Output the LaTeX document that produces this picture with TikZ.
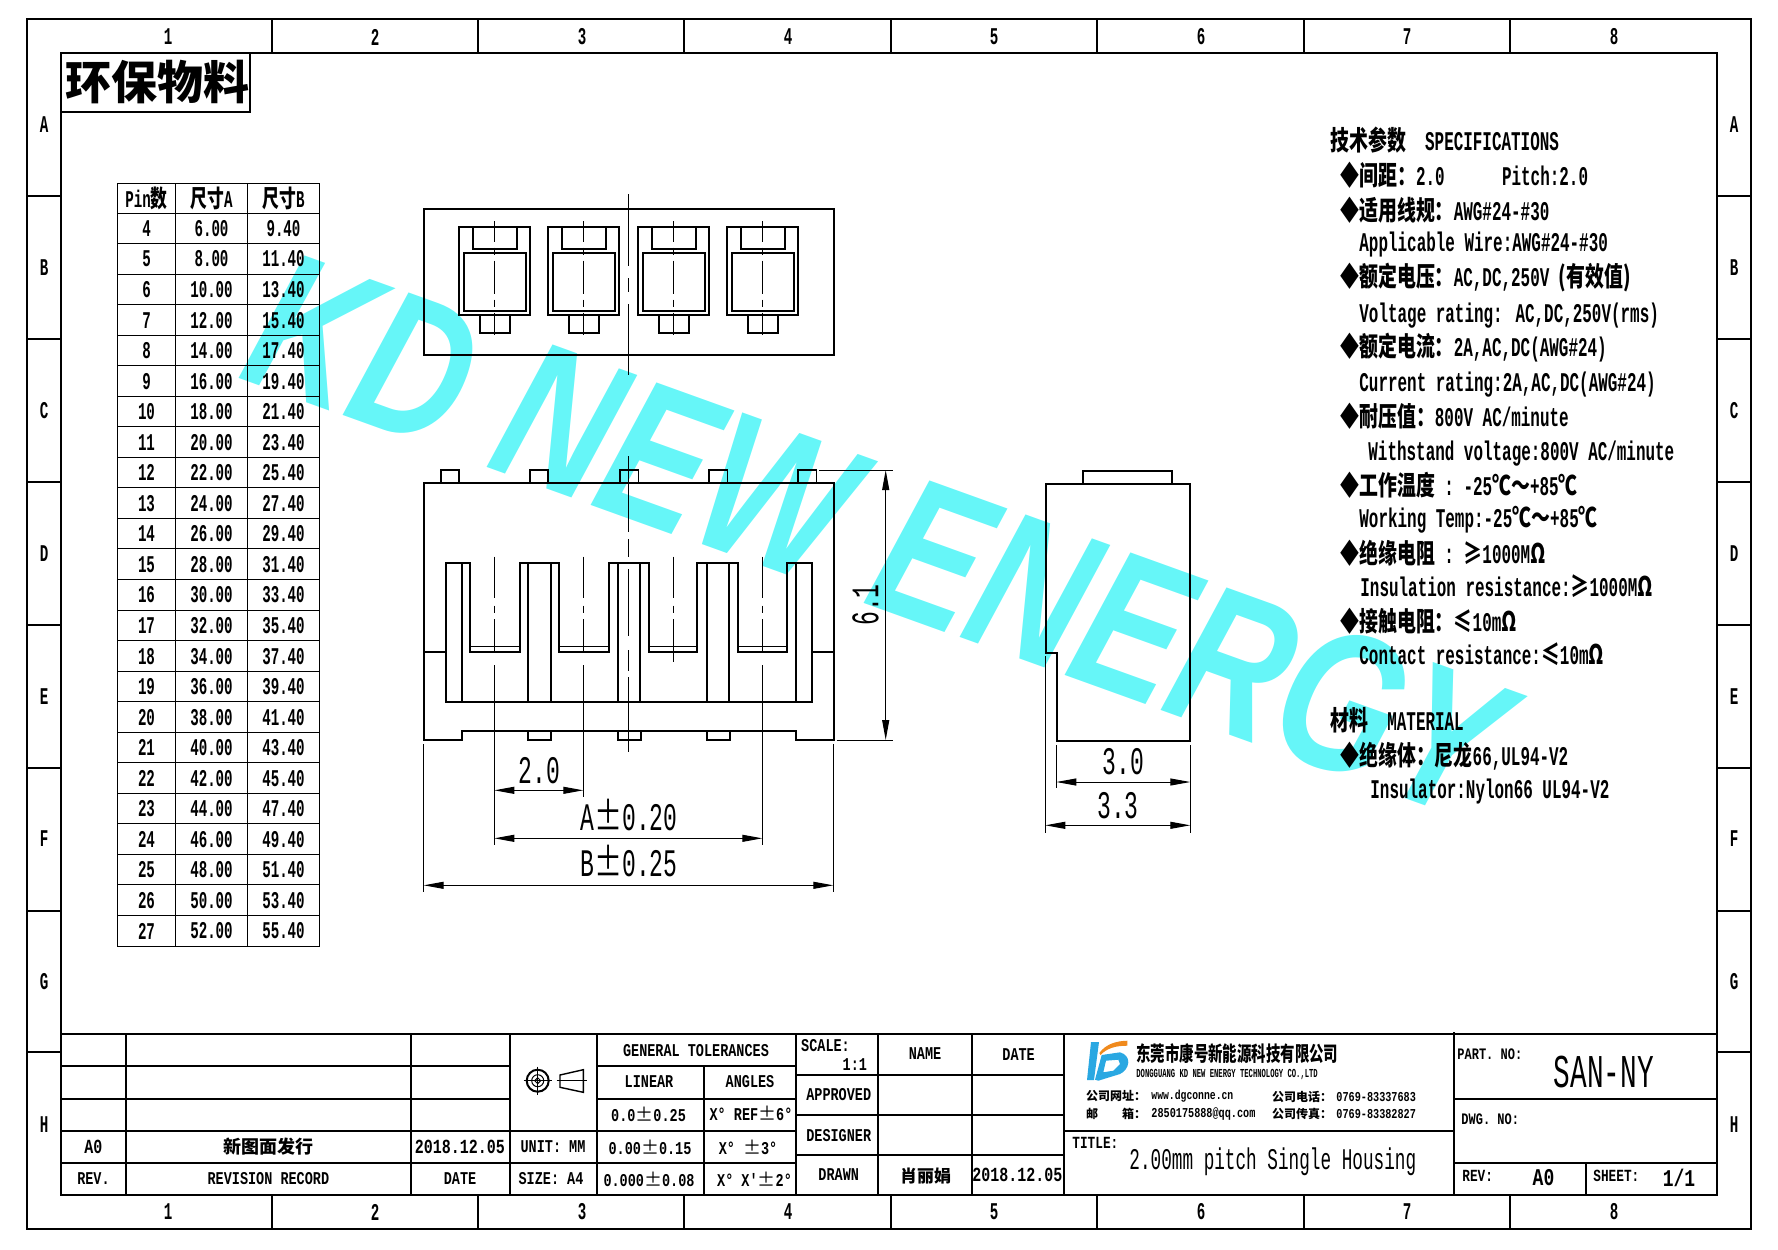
\documentclass[tikz,border=0pt]{standalone}
\usepackage{fontspec}
\usetikzlibrary{arrows.meta}
\setmainfont[FakeStretch=0.59]{Liberation Mono}
\newfontfamily\tbfam[FakeStretch=0.75]{Liberation Mono}
\newfontfamily\cjk[FakeStretch=0.7]{Noto Sans CJK SC}
\newfontfamily\cjkn{Noto Sans CJK SC}
\newfontfamily\wmfam[FakeStretch=0.767]{Liberation Sans}
\newcommand{\zh}[1]{{\cjk\bfseries #1}}
\newcommand{\wpm}{{\cjkn\mdseries ±}}
\newcommand{\dpm}{{\cjkn\mdseries\scalebox{0.72}[1]{±}}}
\definecolor{wmark}{HTML}{66F6F8}
\definecolor{logob}{HTML}{2AA8E2}
\definecolor{logoo}{HTML}{F08A1D}
\tikzset{
	fr/.style={line width=1pt},
	thk/.style={line width=0.9pt},
	thn/.style={line width=0.5pt},
	cen/.style={line width=0.5pt, dash pattern=on 16.5pt off 3pt on 3.5pt off 3pt, dash phase=6.3pt},
	fcen/.style={line width=0.5pt, dash pattern=on 20.5pt off 4pt on 3.4pt off 3.4pt on 30pt},
	dimln/.style={line width=0.5pt, {Triangle[length=10pt,width=3.5pt]}-{Triangle[length=10pt,width=3.5pt]}},
	mlbl/.style={inner sep=0pt, font=\bfseries\fontsize{#1}{#1}\selectfont},
	dlbl/.style={inner sep=0pt, font=\fontsize{#1}{#1}\selectfont},
	tlbl/.style={inner sep=0pt, font=\tbfam\bfseries\fontsize{#1}{#1}\selectfont},
	clbl/.style={inner sep=0pt, font=\cjkn\bfseries\fontsize{#1}{#1}\selectfont},
	spec/.style={mlbl=13.5, anchor=west},
	lft/.style={tlbl=#1, anchor=west}
}
\begin{document}
\begin{tikzpicture}[x=0.5pt,y=-0.5pt]
	\useasboundingbox (0,0) rectangle (1778,1249);
	\node[anchor=base west, rotate=-19.8, inner sep=0pt, text=wmark, font=\wmfam\bfseries\itshape\fontsize{100}{100}\selectfont] (wm) at (236,377) {KD NEW ENERGY};

	\draw[fr] (27,19) rectangle (1751,1229);
	\draw[fr] (61,53) rectangle (1717,1195);
	\foreach \x in {272,478,684,891,1097,1304,1510} {
		\draw[fr] (\x,19) -- (\x,53);
		\draw[fr] (\x,1195) -- (\x,1229);
	}
	\foreach \y in {196,339,482,625,768,911,1052} {
		\draw[fr] (27,\y) -- (61,\y);
		\draw[fr] (1717,\y) -- (1751,\y);
	}
	\foreach \x [count=\i] in {168,375,582,788,994,1201,1407,1614} {
		\node[mlbl=12] (tn\i) at (\x,37) {\i};
		\node[mlbl=12] (bn\i) at (\x,1212) {\i};
	}
	\foreach \y/\l in {125/A,268/B,411/C,554/D,697/E,839/F,982/G,1125/H} {
		\node[mlbl=12] (ll\l) at (44,\y) {\l};
		\node[mlbl=12] (rl\l) at (1734,\y) {\l};
	}
	\draw[fr] (61,53) rectangle (250,112);
	\node[clbl=23] (eco) at (157,82) {环保物料};

	\draw[thn] (117.5,183) rectangle (319.5,946);
	\draw[thn] (175.5,183) -- (175.5,946);
	\draw[thn] (247.5,183) -- (247.5,946);
	\foreach \i in {0,...,23} {
		\draw[thn] (117.5,{213+30.54*\i}) -- (319.5,{213+30.54*\i});
	}
	\node[mlbl=12] (hp) at (146.5,198) {Pin\zh{数}};
	\node[mlbl=12] (ha) at (211.5,198) {\zh{尺寸}A};
	\node[mlbl=12] (hb) at (283.5,198) {\zh{尺寸}B};
	\foreach \n [count=\rw, evaluate=\n as \sa using int(2*\n-2), evaluate=\n as \sb using int(2*\n+1)] in {4,...,27} {
		\node[mlbl=12] (p\n) at (146.5,{198+30.54*\rw}) {\n};
		\node[mlbl=12] (a\n) at (211.5,{198+30.54*\rw}) {\sa.00};
		\node[mlbl=12] (b\n) at (283.5,{198+30.54*\rw}) {\sb.40};
	}

	\draw[thk] (424,209) rectangle (834,354.7);
	\draw[fcen, dash pattern=on 36pt off 6pt on 7pt off 6pt on 36pt] (628.3,194) -- (628.3,374.7);
	\foreach \c in {494.3,583.3,673.3,762.3} {
		\draw[thk] (\c-35.3,227) rectangle (\c+36,315);
		\draw[thk] (\c-21,227) -- (\c-21,249) -- (\c+23,249) -- (\c+23,227);
		\draw[thk] (\c-30.6,252.7) rectangle (\c+32,310.7);
		\draw[thk] (\c-14.3,315) -- (\c-14.3,333) -- (\c+15.7,333) -- (\c+15.7,315);
		\draw[cen] (\c,221.3) -- (\c,335);
	}

	\draw[thk] (424,483) -- (834,483) -- (834,740) -- (796,740) -- (796,730.7) -- (462,730.7) -- (462,740) -- (424,740) -- cycle;
	\foreach \x in {440.7,529.7,620,709,798} {
		\draw[thk] (\x,483) -- (\x,470) -- (\x+18.5,470) -- (\x+18.5,483);
	}
	\foreach \x in {528,618,707} {
		\draw[thk] (\x,730.7) -- (\x,740) -- (\x+23,740) -- (\x+23,730.7);
	}
	\draw[thk] (424,651.7) -- (445.7,651.7);
	\draw[thk] (812.3,651.7) -- (834,651.7);
	\draw[thk] (445.7,702) -- (445.7,562.7) -- (470,562.7) -- (470,651.7) -- (520,651.7) -- (520,562.7) -- (559.3,562.7) -- (559.3,651.7) -- (609.3,651.7) -- (609.3,562.7) -- (649.3,562.7) -- (649.3,651.7) -- (697,651.7) -- (697,562.7) -- (738.3,562.7) -- (738.3,651.7) -- (787.3,651.7) -- (787.3,562.7) -- (812.3,562.7) -- (812.3,702) -- cycle;
	\foreach \x/\w in {470/520,559.3/609.3,649.3/697,738.3/787.3} {
		\draw[thn] (\x,646.7) -- (\w,646.7);
	}
	\foreach \x in {462,528,551,618,640,707,729,796.3} {
		\draw[thk] (\x,562.7) -- (\x,702);
	}
	\draw[fcen] (494.3,556.7) -- (494.3,652);
	\draw[fcen] (583.3,556.7) -- (583.3,652);
	\draw[fcen] (673.3,556.7) -- (673.3,661.7);
	\draw[fcen] (762.3,556.7) -- (762.3,652);
	\draw[thn] (494.3,665) -- (494.3,845);
	\draw[thn] (583.3,665) -- (583.3,796.7);
	\draw[thn] (762.3,665) -- (762.3,845);
	\draw[thn, dash pattern=on 38pt off 3.5pt on 9pt off 6pt on 33.5pt off 7pt on 10.5pt off 3pt on 37.5pt] (628.3,456) -- (628.3,753);

	\draw[thn] (819,470) -- (892.7,470);
	\draw[thn] (836.7,740) -- (892.7,740);
	\draw[thn] (423.7,744) -- (423.7,891.7);
	\draw[thn] (833.3,744) -- (833.3,891.7);
	\coordinate (h1) at (885.7,470);
	\coordinate (h2) at (885.7,740);
	\coordinate (pl) at (494.3,790.3);
	\coordinate (pr) at (583.3,790.3);
	\coordinate (al) at (494.3,838.3);
	\coordinate (ar) at (762.3,838.3);
	\coordinate (bl) at (423.7,885.3);
	\coordinate (br) at (833.3,885.3);
	\draw[dimln] (h1) -- (h2);
	\draw[dimln] (pl) -- (pr);
	\draw[dimln] (al) -- (ar);
	\draw[dimln] (bl) -- (br);
	\node[dlbl=19.5, rotate=90] (d61) at (865.5,605) {6.1};
	\node[dlbl=19.5] (d20) at (539.7,770.3) {2.0};
	\node[dlbl=19.5] (dal) at (629,815) {A\dpm0.20};
	\node[dlbl=19.5] (dbl) at (629,861) {B\dpm0.25};

	\draw[thk] (1045.7,483.7) -- (1190,483.7) -- (1190,740.7) -- (1057,740.7) -- (1057,652.7) -- (1045.7,652.7) -- cycle;
	\draw[thk] (1083,483.7) -- (1083,470.7) -- (1172.3,470.7) -- (1172.3,483.7);
	\draw[thn] (1056.3,745) -- (1056.3,788.3);
	\draw[thn] (1190.3,745) -- (1190.3,832.7);
	\draw[thn] (1045.3,656) -- (1045.3,832.7);
	\coordinate (sl) at (1056.3,782);
	\coordinate (sr) at (1190.3,782);
	\coordinate (tl) at (1045.3,825.3);
	\coordinate (tr) at (1190.3,825.3);
	\draw[dimln] (sl) -- (sr);
	\draw[dimln] (tl) -- (tr);
	\node[dlbl=19.5] (d30) at (1123.5,762) {3.0};
	\node[dlbl=19.5] (d33) at (1118,805.7) {3.3};

	\node[spec] (s1) at (1330,140) {\zh{技术参数}~~SPECIFICATIONS};
	\node[spec] (s2) at (1340,175.7) {\zh{◆间距：}2.0~~~~~~Pitch:2.0};
	\node[spec] (s3) at (1340,210) {\zh{◆适用线规：}AWG\#24-\#30};
	\node[spec] (s4) at (1359,245) {Applicable Wire:AWG\#24-\#30};
	\node[spec] (s5) at (1340,277.7) {\zh{◆额定电压：}AC,DC,250V~\zh{(有效值)}};
	\node[spec] (s6) at (1359,315.3) {Voltage rating: AC,DC,250V(rms)};
	\node[spec] (s7) at (1340,348) {\zh{◆额定电流：}2A,AC,DC(AWG\#24)};
	\node[spec] (s8) at (1359,384.3) {Current rating:2A,AC,DC(AWG\#24)};
	\node[spec] (s9) at (1340,416.7) {\zh{◆耐压值：}800V AC/minute};
	\node[spec] (s10) at (1368,453.4) {Withstand voltage:800V AC/minute};
	\node[spec] (s11) at (1340,485) {\zh{◆工作温度}~:~-25\zh{℃～}+85\zh{℃}};
	\node[spec] (s12) at (1359,520) {Working Temp:-25\zh{℃～}+85\zh{℃}};
	\node[spec] (s13) at (1340,553) {\zh{◆绝缘电阻}~:~\zh{≥}1000M\zh{Ω}};
	\node[spec] (s14) at (1360,586) {Insulation resistance:\zh{≥}1000M\zh{Ω}};
	\node[spec] (s15) at (1340,621) {\zh{◆接触电阻：≤}10m\zh{Ω}};
	\node[spec] (s16) at (1359,654) {Contact resistance:\zh{≤}10m\zh{Ω}};
	\node[spec] (s17) at (1330,720.7) {\zh{材料}~~MATERIAL};
	\node[spec] (s18) at (1340,756) {\zh{◆绝缘体：尼龙}66,UL94-V2};
	\node[spec] (s19) at (1370,791.3) {Insulator:Nylon66 UL94-V2};

	\begin{scope}[yshift=0.5pt]
	\draw[fr] (61,1034.7) -- (1717,1034.7);
	\foreach \y in {1067.3,1100,1131.7,1164} {
		\draw[fr] (61,\y) -- (510,\y);
	}
	\foreach \x in {126,410.7,510,597} {
		\draw[fr] (\x,1034.7) -- (\x,1196);
	}
	\draw[fr] (510,1131.7) -- (796.2,1131.7);
	\draw[fr] (510,1164) -- (796.2,1164);
	\draw[fr] (597,1067.3) -- (796.2,1067.3);
	\draw[fr] (597,1099.5) -- (796.2,1099.5);
	\draw[fr] (704.4,1067.3) -- (704.4,1196);
	\draw[fr] (796.2,1034.7) -- (796.2,1196);
	\draw[fr] (878,1034.7) -- (878,1196);
	\draw[fr] (971.9,1034.7) -- (971.9,1196);
	\draw[fr] (1064.3,1034.7) -- (1064.3,1196);
	\foreach \y in {1075.7,1115.7,1155.7} {
		\draw[fr] (796.2,\y) -- (1064.3,\y);
	}
	\draw[fr] (1064.3,1132) -- (1454,1132);
	\draw[fr] (1454,1033) -- (1454,1196);
	\draw[fr] (1454,1100) -- (1717,1100);
	\draw[fr] (1454,1164) -- (1717,1164);
	\draw[fr] (1586,1164) -- (1586,1196);

	\draw[line width=1pt] (537.7,1081.7) circle (11);
	\draw[thn] (537.7,1081.7) circle (6);
	\draw[thn] (534.7,1081.7) -- (537.7,1078.7) -- (540.7,1081.7) -- (537.7,1084.7) -- cycle;
	\draw[thn] (523.7,1081.7) -- (551.7,1081.7);
	\draw[thn] (537.7,1067.7) -- (537.7,1095.7);
	\draw[line width=0.7pt] (560,1076) -- (583.3,1070.7) -- (583.3,1093.3) -- (560,1088.3) -- cycle;
	\draw[thn] (556.7,1081.7) -- (587.3,1081.7);

	\node[tlbl=10] (r1) at (93.5,1148) {A0};
	\node[clbl=9] (r2) at (268,1148) {新图面发行};
	\node[tlbl=10] (r3) at (460,1148) {2018.12.05};
	\node[tlbl=9] (r4) at (553,1148) {UNIT: MM};
	\node[tlbl=9] (r5) at (650,1148) {0.00\wpm0.15};
	\node[tlbl=9] (r6) at (748,1148) {X°~\wpm3°};
	\node[tlbl=9] (c1) at (93.5,1180) {REV.};
	\node[tlbl=9] (c2) at (268.4,1180) {REVISION RECORD};
	\node[tlbl=9] (c3) at (460,1180) {DATE};
	\node[tlbl=9] (c4) at (551,1180) {SIZE: A4};
	\node[tlbl=9] (c5) at (649,1180) {0.000\wpm0.08};
	\node[tlbl=9] (c6) at (754.5,1180) {X° X'\wpm2°};
	\node[tlbl=9] (g1) at (696,1051.7) {GENERAL TOLERANCES};
	\node[tlbl=9] (g2) at (649,1083) {LINEAR};
	\node[tlbl=9] (g3) at (750,1083) {ANGLES};
	\node[tlbl=9] (g4) at (648.5,1115.7) {0.0\wpm0.25};
	\node[tlbl=9] (g5) at (751,1114) {X° REF\wpm6°};
	\node[lft=9] (sc1) at (800.8,1047) {SCALE:};
	\node[tlbl=9, anchor=east] (sc2) at (867.4,1066) {1:1};
	\node[tlbl=9] (n1) at (925,1055) {NAME};
	\node[tlbl=9] (n2) at (1018.6,1056) {DATE};
	\node[tlbl=9] (n3) at (838.7,1096) {APPROVED};
	\node[tlbl=9] (n4) at (838.7,1136.3) {DESIGNER};
	\node[tlbl=9] (n5) at (838.7,1176) {DRAWN};
	\node[clbl=8.5] (n6) at (925.6,1177) {肖丽娟};
	\node[tlbl=10] (n7) at (1017.4,1176) {2018.12.05};

	\fill[logob] (1091,1043) -- (1099,1043) -- (1094,1081) -- (1087,1081) -- cycle;
	\fill[logoo] (1099.3,1054) .. controls (1106,1045) and (1116,1042) .. (1127.3,1041.7) -- (1127.3,1046.7) .. controls (1116,1046.7) and (1107,1049) .. (1100.5,1056) -- cycle;
	\fill[logob, even odd rule] (1101.7,1056) -- (1120,1053.3) .. controls (1126,1055) and (1128.3,1059) .. (1128.3,1063.3) .. controls (1128,1069) and (1124,1073) .. (1120,1075) -- (1098.3,1081.7) -- (1095,1080.7) -- cycle (1106,1061.7) -- (1118.3,1060.7) -- (1120,1065) -- (1113.3,1071.7) -- (1103.3,1073.3) -- cycle;
	\node[anchor=west, inner sep=0pt, font=\cjk\bfseries\fontsize{10.3}{10.3}\selectfont] (co1) at (1136,1055) {东莞市康号新能源科技有限公司};
	\node[anchor=west, mlbl=6.1] (co2) at (1136,1075.7) {DONGGUANG KD NEW ENERGY TECHNOLOGY CO.,LTD};
	\node[anchor=west, clbl=6] (co3) at (1085.7,1097) {公司网址：};
	\node[lft=6.5] (co4) at (1151,1097) {www.dgconne.cn};
	\node[anchor=west, clbl=6] (co5) at (1085.7,1115) {邮\hspace{2em}箱：};
	\node[lft=6.8] (co6) at (1151,1115) {2850175888@qq.com};
	\node[anchor=west, clbl=6] (co7) at (1271.7,1098) {公司电话：};
	\node[lft=6.8] (co8) at (1336,1098) {0769-83337683};
	\node[anchor=west, clbl=6] (co9) at (1271.7,1115) {公司传真：};
	\node[lft=6.8] (co10) at (1336,1115) {0769-83382827};

	\node[lft=8.5] (t1) at (1072,1144) {TITLE:};
	\node[dlbl=15, anchor=west] (t2) at (1129,1163) {2.00mm pitch Single Housing};
	\node[lft=8] (t3) at (1457,1055) {PART. NO:};
	\node[dlbl=23.5] (t4) at (1603.8,1073) {SAN-NY};
	\node[lft=8] (t5) at (1461,1120.7) {DWG. NO:};
	\node[lft=8.5] (t6) at (1462,1177) {REV:};
	\node[tlbl=12] (t7) at (1543.5,1179) {A0};
	\node[lft=8.5] (t8) at (1593,1176.7) {SHEET:};
	\node[tlbl=12] (t9) at (1679,1179) {1/1};
	\end{scope}
\end{tikzpicture}
\end{document}
